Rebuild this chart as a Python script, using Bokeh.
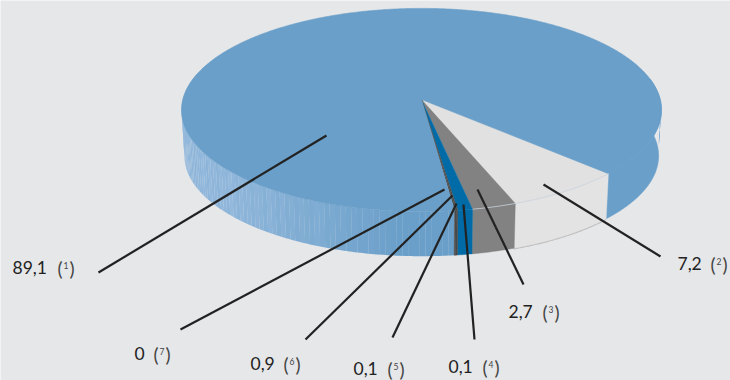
import math

from bokeh.core.properties import value
from bokeh.embed import file_html
from bokeh.models import ColumnDataSource
from bokeh.plotting import figure
from bokeh.resources import INLINE

# Shares of the pie, in the order they run clockwise from the seam with the large slice
slice_ids = ["2", "3", "6", "5", "4", "7", "1"]
slice_values = [7.2, 2.7, 0.9, 0.1, 0.1, 0.0, 89.1]
top_colors = ["#E1E1E1", "#828282", "#006BA6", "#4A4A4A", "#4A4A4A", "#4A4A4A", "#6A9FC9"]
wall_colors = ["#E3E3E3", "#828282", "#006BA6", "#4A4A4A", "#4A4A4A", "#4A4A4A", "#6A9FC9"]

# Label texts
label_values = ["89,1", "7,2", "2,7", "0,1", "0,1", "0,9", "0"]
label_ids = ["1", "2", "3", "4", "5", "6", "7"]

# Label layout: left edge of the number, left edge of the bracket, baseline
label_x = [12, 677, 508, 448, 353, 250, 134]
bracket_x = [57, 710, 542, 482, 387, 283, 153]
label_y = [267, 263, 311, 366, 368, 363, 353]

# Leader lines, same order as the labels
leader_xs = [[326, 98], [543, 660], [477, 523], [463, 474], [456, 392], [452, 305], [444, 180]]
leader_ys = [[135, 272], [184, 256], [189, 284], [204, 339], [203, 337], [195, 339], [189, 329]]

# Pie projection
CX, CY = 421.0, 99.0
RX, RY = 238.7, 100.5
PERSP = 0.103
DEPTH = 46.0
BOTTOM_SCALE = 0.988
START_DEG = 43.3

BG = "#E6E7E9"


def project(theta_deg, scale=1.0, drop=0.0):
    t = math.radians(theta_deg)
    x, y = math.cos(t), math.sin(t)
    w = 1.0 - PERSP * y
    return CX + scale * RX * x / w, CY + drop + scale * RY * y / w


def arc(a, b, scale=1.0, drop=0.0, step=0.5):
    n = max(2, int(abs(b - a) / step) + 1)
    pts = [project(a + (b - a) * i / (n - 1), scale, drop) for i in range(n)]
    return [p[0] for p in pts], [p[1] for p in pts]


def wall(a, b):
    tx, ty = arc(a, b)
    bx, by = arc(a, b, BOTTOM_SCALE, DEPTH)
    return tx + bx[::-1], ty + by[::-1]


def mix(c1, c2, f):
    a = [int(c1[i:i + 2], 16) for i in (1, 3, 5)]
    b = [int(c2[i:i + 2], 16) for i in (1, 3, 5)]
    return "#%02X%02X%02X" % tuple(round(u + (v - u) * f) for u, v in zip(a, b))


total = sum(slice_values)
edges = [START_DEG]
for v in slice_values:
    edges.append(edges[-1] + v / total * 360.0)

p = figure(
    width=730, height=380, x_range=(0, 730), y_range=(380, 0),
    output_backend="svg", toolbar_location=None, min_border=0,
    background_fill_color=BG, border_fill_color=BG, outline_line_color=None,
)
p.axis.visible = False
p.grid.visible = False

# Side wall of the large slice: pale streaked on the left, blending into the top colour
STREAK = [0.0, 0.14, -0.06, 0.08, 0.2, -0.03, 0.04, 0.16, -0.08, 0.1]
wall_x, wall_y, wall_c = [], [], []
a = edges[-2]
i = 0
while a < 195:
    xs, ys = wall(a, a + 1.3)
    sx = sum(xs) / len(xs)
    f = max(0.0, min(1.0, (400 - sx) / 170))
    base = mix("#6A9FC9", "#8FB6DA", f)
    streak = STREAK[i % len(STREAK)] * f
    wall_x.append(xs)
    wall_y.append(ys)
    wall_c.append(mix(base, "#6F9FCB" if streak < 0 else "#A4C4E2", abs(streak)))
    a += 1.25
    i += 1
p.patches(wall_x, wall_y, fill_color=wall_c, line_color=None)

# Right-hand wall shares the top colour, so the rim there disappears
xs, ys = wall(-12, edges[0] + 0.5)
p.patch(xs, ys, fill_color="#6A9FC9", line_color="#6A9FC9", line_width=0.6)

# Pale glint on the wall at the far right
gx_top, gy_top = arc(3, 12)
gx_low, gy_low = arc(3, 12, 0.996, 12)
p.patch(gx_top + gx_low[::-1], gy_top + gy_low[::-1], fill_color="#A3C4E0", line_color=None)
gx_low2, gy_low2 = arc(3, 12, 0.994, 24)
p.patch(gx_low + gx_low2[::-1], gy_low + gy_low2[::-1], fill_color="#86B0D4", line_color=None)

# Shadow under the pale slice's wall
sx1, sy1 = arc(edges[0] + 0.3, edges[1] + 0.2, BOTTOM_SCALE, DEPTH)
p.line(sx1, sy1, line_color="#BDBDBD", line_width=2.4)

# Walls of the small slices
for k in range(len(slice_values) - 1):
    if slice_values[k] > 0:
        xs, ys = wall(edges[k], edges[k + 1])
        p.patch(xs, ys, fill_color=wall_colors[k], line_color=wall_colors[k], line_width=0.4)

# Top faces, the large slice last so its edge lies cleanly over the walls
for k in range(len(slice_values)):
    if slice_values[k] > 0:
        ax, ay = arc(edges[k], edges[k + 1])
        p.patch([CX] + ax, [CY] + ay, fill_color=top_colors[k],
                line_color=top_colors[k], line_width=0.6 if k == len(slice_values) - 1 else 0.3)

# Rim highlight where the small slices' tops meet their walls
rx, ry = arc(edges[0], edges[2])
p.line(rx, ry, line_color="#C9D3DD", line_width=0.8)

# Leader lines
p.multi_line(leader_xs, leader_ys, line_color="#222222", line_width=2.2)

# Labels: number, then bracket with a small index digit
src = ColumnDataSource(dict(
    x=label_x, y=label_y, t=label_values,
    bl=bracket_x, bd=[b + 8.5 for b in bracket_x], br=[b + 17 for b in bracket_x],
    by=[yy + 0.5 for yy in label_y], dy=[yy - 2 for yy in label_y], d=label_ids,
    op=["("] * 7, cl=[")"] * 7,
))
font = value("Lato")
p.text("x", "y", text="t", source=src, text_font=font, text_font_size="17.5px",
       text_color="#222222", text_align="left", text_baseline="alphabetic")
p.text("bl", "by", text="op", source=src, text_font=font, text_font_size="19px",
       text_color="#444444", text_align="left", text_baseline="alphabetic")
p.text("bd", "dy", text="d", source=src, text_font=font, text_font_size="8.5px",
       text_color="#444444", text_align="center", text_baseline="alphabetic")
p.text("br", "by", text="cl", source=src, text_font=font, text_font_size="19px",
       text_color="#444444", text_align="right", text_baseline="alphabetic")

open("out.html", "w").write(file_html(p, INLINE))
